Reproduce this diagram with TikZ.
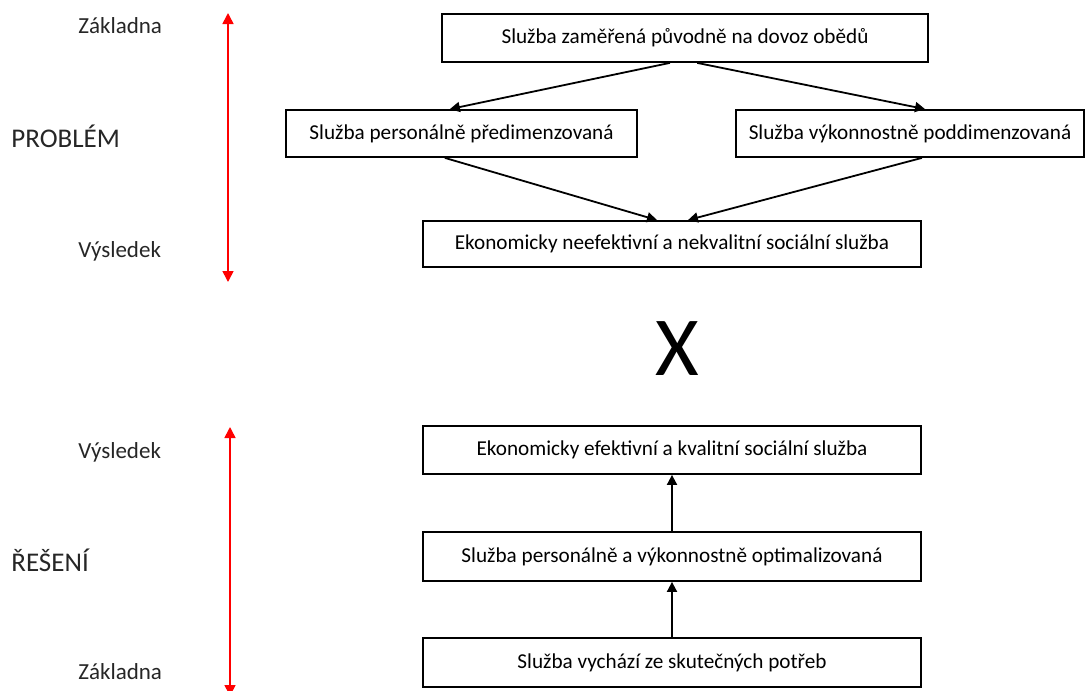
\documentclass[tikz,border=0pt]{standalone}
\usepackage{fontspec}
\setmainfont{Carlito}
\usetikzlibrary{arrows.meta}
\usetikzlibrary{calc}
\usetikzlibrary{positioning}

\begin{document}
\begin{tikzpicture}[x=0.5pt,y=-0.5pt,
  box/.style={draw=black,line width=0.9pt,rectangle,inner sep=0pt,font=\fontsize{10.6}{13}\selectfont},
  flow/.style={draw=black,line width=0.9pt,-{Triangle[length=5pt,width=5pt]}},
  span/.style={draw=red,line width=0.8pt,{Triangle[length=5.5pt,width=5.5pt]}-{Triangle[length=5.5pt,width=5.5pt]}},
  side/.style={font=\fontsize{11.5}{13}\selectfont,text=black!85,anchor=base west,inner sep=0pt},
  head/.style={font=\fontsize{13.5}{15}\selectfont,text=black!85,anchor=base west,inner sep=0pt}]
\useasboundingbox (0,0) rectangle (1089,691);

% PROBLEM part
\node[box,minimum width=243pt,minimum height=24pt] (zaklad) at (685,38) {Služba zaměřená původně na dovoz obědů};
\node[box,minimum width=175.5pt,minimum height=23.5pt] (perso) at (461.5,133.5) {Služba personálně předimenzovaná};
\node[box,minimum width=174pt,minimum height=23.5pt] (vykon) at (910,133.5) {Služba výkonnostně poddimenzovaná};
\node[box,minimum width=249pt,minimum height=23pt] (neef) at (672,244) {Ekonomicky neefektivní a nekvalitní sociální služba};

\draw[flow] ($(zaklad.south west)!0.469!(zaklad.south east)$) -- ($(perso.north west)!0.467!(perso.north east)$);
\draw[flow] ($(zaklad.south west)!0.525!(zaklad.south east)$) -- ($(vykon.north west)!0.543!(vykon.north east)$);
\draw[flow] ($(perso.south west)!0.453!(perso.south east)$) -- ($(neef.north west)!0.47!(neef.north east)$);
\draw[flow] ($(vykon.south west)!0.534!(vykon.south east)$) -- ($(neef.north west)!0.532!(neef.north east)$);

\coordinate (pTop) at (228,13);
\coordinate (pBot) at (228,282);
\draw[span] (pTop) -- (pBot);
\node[side] (pZak) at (78,33) {Základna};
\node[head] (pHead) at (11,147) {PROBLÉM};
\node[side] (pVys) at (78,257) {Výsledek};

% X
\node[font=\fontsize{42}{46}\selectfont,anchor=base,inner sep=0pt] (cross) at (677,375) {X};

% RESENI part
\node[box,minimum width=249pt,minimum height=24pt] (efek) at (672,450) {Ekonomicky efektivní a kvalitní sociální služba};
\node[box,minimum width=249pt,minimum height=24.5pt] (optim) at (672,556.5) {Služba personálně a výkonnostně optimalizovaná};
\node[box,minimum width=249pt,minimum height=24.5pt] (potreb) at (672,662.5) {Služba vychází ze skutečných potřeb};

\draw[flow] (optim) -- (efek);
\draw[flow] (potreb) -- (optim);

\coordinate (rTop) at (230,427);
\coordinate (rBot) at (230,696);
\draw[span] (rBot) -- (rTop);
\node[side] (rVys) at (78,458) {Výsledek};
\node[head] (rHead) at (11,571) {ŘEŠENÍ};
\node[side] (rZak) at (78,679) {Základna};

\end{tikzpicture}
\end{document}
